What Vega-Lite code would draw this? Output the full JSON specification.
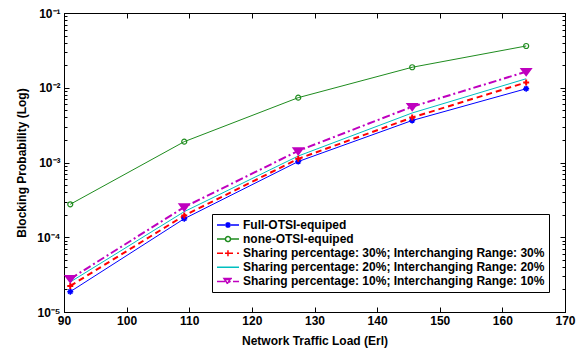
{
  "$schema": "https://vega.github.io/schema/vega-lite/v6.json",
  "width": 501,
  "height": 299,
  "autosize": "none",
  "padding": {"left": 64, "top": 13, "right": 20, "bottom": 40},
  "background": "white",
  "data": {
    "values": [
      {"series": "Full-OTSI-equiped", "load": 91.0, "bp": 1.87e-5},
      {"series": "Full-OTSI-equiped", "load": 109.2, "bp": 1.77e-4},
      {"series": "Full-OTSI-equiped", "load": 127.4, "bp": 1.03e-3},
      {"series": "Full-OTSI-equiped", "load": 145.6, "bp": 3.65e-3},
      {"series": "Full-OTSI-equiped", "load": 163.8, "bp": 9.7e-3},
      {"series": "none-OTSI-equiped", "load": 91.0, "bp": 2.76e-4},
      {"series": "none-OTSI-equiped", "load": 109.2, "bp": 1.9e-3},
      {"series": "none-OTSI-equiped", "load": 127.4, "bp": 7.37e-3},
      {"series": "none-OTSI-equiped", "load": 145.6, "bp": 1.88e-2},
      {"series": "none-OTSI-equiped", "load": 163.8, "bp": 3.62e-2},
      {"series": "Sharing percentage: 30%; Interchanging Range: 30%", "load": 91.0, "bp": 2.23e-5},
      {"series": "Sharing percentage: 30%; Interchanging Range: 30%", "load": 109.2, "bp": 1.95e-4},
      {"series": "Sharing percentage: 30%; Interchanging Range: 30%", "load": 127.4, "bp": 1.12e-3},
      {"series": "Sharing percentage: 30%; Interchanging Range: 30%", "load": 145.6, "bp": 4.0e-3},
      {"series": "Sharing percentage: 30%; Interchanging Range: 30%", "load": 163.8, "bp": 1.18e-2},
      {"series": "Sharing percentage: 20%; Interchanging Range: 20%", "load": 91.0, "bp": 2.52e-5},
      {"series": "Sharing percentage: 20%; Interchanging Range: 20%", "load": 109.2, "bp": 2.2e-4},
      {"series": "Sharing percentage: 20%; Interchanging Range: 20%", "load": 127.4, "bp": 1.22e-3},
      {"series": "Sharing percentage: 20%; Interchanging Range: 20%", "load": 145.6, "bp": 4.6e-3},
      {"series": "Sharing percentage: 20%; Interchanging Range: 20%", "load": 163.8, "bp": 1.32e-2},
      {"series": "Sharing percentage: 10%; Interchanging Range: 10%", "load": 91.0, "bp": 2.78e-5},
      {"series": "Sharing percentage: 10%; Interchanging Range: 10%", "load": 109.2, "bp": 2.53e-4},
      {"series": "Sharing percentage: 10%; Interchanging Range: 10%", "load": 127.4, "bp": 1.43e-3},
      {"series": "Sharing percentage: 10%; Interchanging Range: 10%", "load": 145.6, "bp": 5.58e-3},
      {"series": "Sharing percentage: 10%; Interchanging Range: 10%", "load": 163.8, "bp": 1.64e-2}
    ]
  },
  "config": {
    "font": "Liberation Sans",
    "view": {"stroke": "black", "strokeWidth": 1},
    "axis": {
      "grid": false,
      "labelFont": "Liberation Sans",
      "labelFontWeight": "bold",
      "labelFontSize": 12,
      "labelColor": "black",
      "titleFont": "Liberation Sans",
      "titleFontWeight": "bold",
      "titleFontSize": 12,
      "titleColor": "black",
      "domainColor": "black",
      "tickColor": "black",
      "tickWidth": 1,
      "labelOverlap": false,
      "labelFlush": false,
      "labelBound": false
    },
    "legend": {
      "labelFont": "Liberation Sans",
      "labelFontWeight": "bold",
      "labelFontSize": 12,
      "labelColor": "black",
      "labelLimit": 0,
      "title": null,
      "orient": "none",
      "legendX": 148,
      "legendY": 201,
      "fillColor": "white",
      "strokeColor": "black",
      "padding": 4,
      "symbolOpacity": 1,
      "symbolSize": 144,
      "symbolStrokeWidth": 1.5,
      "labelOffset": 13,
      "rowPadding": 1.1
    }
  },
  "resolve": {
    "axis": {"x": "independent", "y": "independent"}
  },
  "layer": [
    {
      "transform": [{"filter": "datum.series == 'Full-OTSI-equiped'"}],
      "mark": {"type": "line", "color": "#0000ff", "strokeWidth": 1},
      "encoding": {
        "x": {
          "field": "load", "type": "quantitative",
          "scale": {"domain": [90, 170], "nice": false, "zero": false},
          "axis": {
            "orient": "bottom",
            "title": "Network Traffic Load (Erl)",
            "values": [90, 100, 110, 120, 130, 140, 150, 160, 170],
            "tickSize": -5,
            "labelPadding": 8,
            "titlePadding": 9
          }
        },
        "y": {
          "field": "bp", "type": "quantitative",
          "scale": {"type": "log", "domain": [0.00001, 0.1], "nice": false},
          "axis": {
            "orient": "left",
            "title": "Blocking Probability (Log)",
            "values": [0.00001, 0.00002, 0.00003, 0.00004, 0.00005, 0.00006, 0.00007, 0.00008, 0.00009,
                       0.0001, 0.0002, 0.0003, 0.0004, 0.0005, 0.0006, 0.0007, 0.0008, 0.0009,
                       0.001, 0.002, 0.003, 0.004, 0.005, 0.006, 0.007, 0.008, 0.009,
                       0.01, 0.02, 0.03, 0.04, 0.05, 0.06, 0.07, 0.08, 0.09, 0.1],
            "labelExpr": "datum.value == 0.1 ? '10⁻¹' : datum.value == 0.01 ? '10⁻²' : datum.value == 0.001 ? '10⁻³' : datum.value == 0.0001 ? '10⁻⁴' : datum.value == 0.00001 ? '10⁻⁵' : ''",
            "tickSize": {"condition": {"test": "datum.value == 0.1 || datum.value == 0.01 || datum.value == 0.001 || datum.value == 0.0001 || datum.value == 0.00001", "value": -5}, "value": -3},
            "labelPadding": 9,
            "titlePadding": 8
          }
        }
      }
    },
    {
      "transform": [{"filter": "datum.series == 'none-OTSI-equiped'"}],
      "mark": {"type": "line", "color": "#1f8c1f", "strokeWidth": 1},
      "encoding": {
        "x": {"field": "load", "type": "quantitative", "axis": null},
        "y": {"field": "bp", "type": "quantitative", "axis": null}
      }
    },
    {
      "transform": [{"filter": "datum.series == 'Sharing percentage: 30%; Interchanging Range: 30%'"}],
      "mark": {"type": "line", "color": "#ff0000", "strokeWidth": 2, "strokeDash": [6, 4]},
      "encoding": {
        "x": {"field": "load", "type": "quantitative", "axis": null},
        "y": {"field": "bp", "type": "quantitative", "axis": null}
      }
    },
    {
      "transform": [{"filter": "datum.series == 'Sharing percentage: 20%; Interchanging Range: 20%'"}],
      "mark": {"type": "line", "color": "#00bfbf", "strokeWidth": 1},
      "encoding": {
        "x": {"field": "load", "type": "quantitative", "axis": null},
        "y": {"field": "bp", "type": "quantitative", "axis": null}
      }
    },
    {
      "transform": [{"filter": "datum.series == 'Sharing percentage: 10%; Interchanging Range: 10%'"}],
      "mark": {"type": "line", "color": "#bf00bf", "strokeWidth": 2, "strokeDash": [8, 3, 2, 3]},
      "encoding": {
        "x": {"field": "load", "type": "quantitative", "axis": null},
        "y": {"field": "bp", "type": "quantitative", "axis": null}
      }
    },
    {
      "transform": [{"filter": "datum.series == 'Full-OTSI-equiped'"}],
      "mark": {"type": "point", "filled": false, "size": 100, "strokeWidth": 1.5, "opacity": 1, "color": "#0000ff",
               "shape": "M0,-0.6L0,0.6M-0.6,0L0.6,0M-0.42,-0.42L0.42,0.42M-0.42,0.42L0.42,-0.42"},
      "encoding": {
        "x": {"field": "load", "type": "quantitative", "axis": null},
        "y": {"field": "bp", "type": "quantitative", "axis": null}
      }
    },
    {
      "transform": [{"filter": "datum.series == 'none-OTSI-equiped'"}],
      "mark": {"type": "point", "filled": false, "size": 100, "strokeWidth": 1.2, "opacity": 1, "color": "#1f8c1f",
               "shape": "M-0.5,0A0.5,0.5 0 1,1 0.5,0A0.5,0.5 0 1,1 -0.5,0Z"},
      "encoding": {
        "x": {"field": "load", "type": "quantitative", "axis": null},
        "y": {"field": "bp", "type": "quantitative", "axis": null}
      }
    },
    {
      "transform": [{"filter": "datum.series == 'Sharing percentage: 30%; Interchanging Range: 30%'"}],
      "mark": {"type": "point", "filled": false, "size": 100, "strokeWidth": 2, "opacity": 1, "color": "#ff0000",
               "shape": "M0,-0.6L0,0.6M-0.6,0L0.6,0"},
      "encoding": {
        "x": {"field": "load", "type": "quantitative", "axis": null},
        "y": {"field": "bp", "type": "quantitative", "axis": null}
      }
    },
    {
      "transform": [{"filter": "datum.series == 'Sharing percentage: 10%; Interchanging Range: 10%'"}],
      "mark": {"type": "point", "filled": false, "size": 100, "strokeWidth": 1.5, "opacity": 1, "color": "#bf00bf",
               "shape": "M-1,-0.6L1,-0.6L0,0.75Z M-0.55,-0.35L0.55,-0.35L0,0.4Z M-0.2,-0.15L0.2,-0.15L0,0.1Z"},
      "encoding": {
        "x": {"field": "load", "type": "quantitative", "axis": null},
        "y": {"field": "bp", "type": "quantitative", "axis": null}
      }
    },
    {
      "mark": {"type": "point", "filled": false, "size": 144, "opacity": 0},
      "encoding": {
        "x": {
          "field": "load", "type": "quantitative",
          "axis": {"orient": "top", "title": null, "labels": false, "values": [90, 100, 110, 120, 130, 140, 150, 160, 170], "tickSize": -5}
        },
        "y": {
          "field": "bp", "type": "quantitative",
          "axis": {
            "orient": "right", "title": null, "labels": false,
            "values": [0.00001, 0.00002, 0.00003, 0.00004, 0.00005, 0.00006, 0.00007, 0.00008, 0.00009,
                       0.0001, 0.0002, 0.0003, 0.0004, 0.0005, 0.0006, 0.0007, 0.0008, 0.0009,
                       0.001, 0.002, 0.003, 0.004, 0.005, 0.006, 0.007, 0.008, 0.009,
                       0.01, 0.02, 0.03, 0.04, 0.05, 0.06, 0.07, 0.08, 0.09, 0.1],
            "tickSize": {"condition": {"test": "datum.value == 0.1 || datum.value == 0.01 || datum.value == 0.001 || datum.value == 0.0001 || datum.value == 0.00001", "value": -5}, "value": -3}
          }
        },
        "color": {
          "field": "series", "type": "nominal",
          "scale": {
            "domain": ["Full-OTSI-equiped", "none-OTSI-equiped", "Sharing percentage: 30%; Interchanging Range: 30%", "Sharing percentage: 20%; Interchanging Range: 20%", "Sharing percentage: 10%; Interchanging Range: 10%"],
            "range": ["#0000ff", "#1f8c1f", "#ff0000", "#00bfbf", "#bf00bf"]
          }
        },
        "shape": {
          "field": "series", "type": "nominal",
          "scale": {
            "domain": ["Full-OTSI-equiped", "none-OTSI-equiped", "Sharing percentage: 30%; Interchanging Range: 30%", "Sharing percentage: 20%; Interchanging Range: 20%", "Sharing percentage: 10%; Interchanging Range: 10%"],
            "range": [
              "M-1,0L2.67,0M0.83,-0.5L0.83,0.5M0.33,0L1.33,0M0.48,-0.35L1.18,0.35M0.48,0.35L1.18,-0.35",
              "M-1,0L0.41,0M1.25,0L2.67,0M0.41,0A0.42,0.42 0 1,1 1.25,0A0.42,0.42 0 1,1 0.41,0",
              "M-1,0L2.67,0M0.83,-0.5L0.83,0.5M0.33,0L1.33,0",
              "M-1,0L2.67,0",
              "M-1,0L2.67,0M0.16,-0.5L1.5,-0.5L0.83,0.5Z M0.5,-0.3L1.16,-0.3L0.83,0.2Z"
            ]
          }
        },
        "strokeDash": {
          "field": "series", "type": "nominal",
          "scale": {
            "domain": ["Full-OTSI-equiped", "none-OTSI-equiped", "Sharing percentage: 30%; Interchanging Range: 30%", "Sharing percentage: 20%; Interchanging Range: 20%", "Sharing percentage: 10%; Interchanging Range: 10%"],
            "range": [[1, 0], [1, 0], [6, 4], [1, 0], [8, 3, 2, 3]]
          }
        }
      }
    }
  ]
}
